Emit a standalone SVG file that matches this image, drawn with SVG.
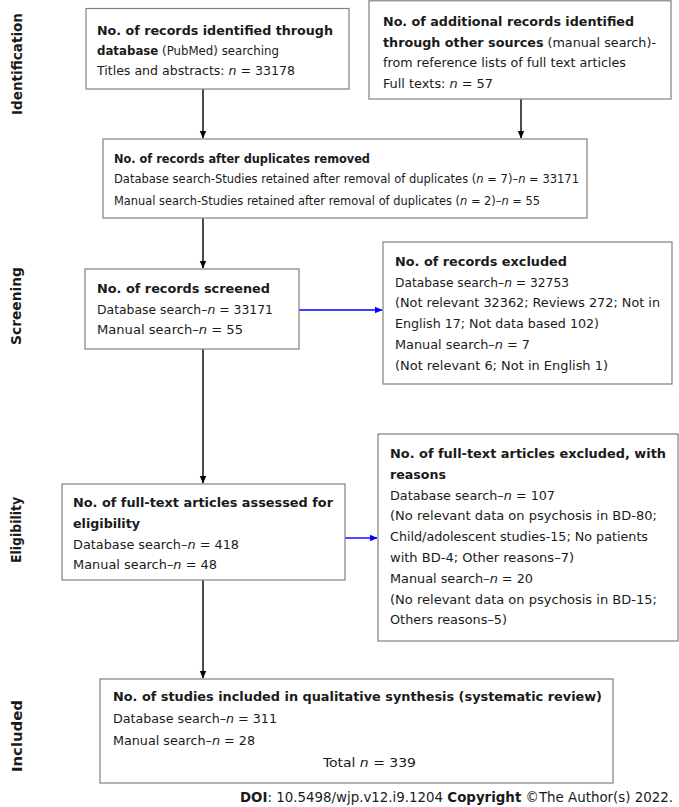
<svg xmlns="http://www.w3.org/2000/svg" width="679" height="807" viewBox="0 0 679 807">
<style>
  text { font-family: "DejaVu Sans Condensed", "DejaVu Sans", sans-serif; font-size: 13px; fill: #1a1a1a; }
  .b { font-weight: bold; }
  .i { font-style: italic; }
  .sm { font-size: 12px; }
  .stage { font-weight: bold; font-size: 13.5px; }
  .foot { font-size: 14px; }
  .box { fill: #ffffff; stroke: #808080; stroke-width: 1.2; }
  .arrow { stroke: #000000; stroke-width: 1.4; fill: none; }
  .blue { stroke: #0000ff; stroke-width: 1.4; fill: none; }
</style>
<defs>
  <marker id="ah" markerWidth="8" markerHeight="8" refX="7" refY="4" orient="auto" markerUnits="userSpaceOnUse">
    <path d="M0,0.8 L7.5,4 L0,7.2 Z" fill="#000000"/>
  </marker>
  <marker id="ahb" markerWidth="8" markerHeight="8" refX="7" refY="4" orient="auto" markerUnits="userSpaceOnUse">
    <path d="M0,0.8 L7.5,4 L0,7.2 Z" fill="#0000ff"/>
  </marker>
</defs>
<rect width="679" height="807" fill="#ffffff"/>

<g id="stages">
  <text class="stage" transform="translate(22,64) rotate(-90)" text-anchor="middle" textLength="102" lengthAdjust="spacingAndGlyphs">Identification</text>
  <text class="stage" transform="translate(21,306) rotate(-90)" text-anchor="middle" textLength="78" lengthAdjust="spacingAndGlyphs">Screening</text>
  <text class="stage" transform="translate(21,530) rotate(-90)" text-anchor="middle" textLength="66" lengthAdjust="spacingAndGlyphs">Eligibility</text>
  <text class="stage" transform="translate(22,736) rotate(-90)" text-anchor="middle" textLength="72" lengthAdjust="spacingAndGlyphs">Included</text>
</g>

<g id="connectors">
  <line class="arrow" x1="203" y1="89" x2="203" y2="138" marker-end="url(#ah)"/>
  <line class="arrow" x1="521" y1="99" x2="521" y2="138" marker-end="url(#ah)"/>
  <line class="arrow" x1="203" y1="218" x2="203" y2="268" marker-end="url(#ah)"/>
  <line class="blue" x1="299" y1="310" x2="382" y2="310" marker-end="url(#ahb)"/>
  <line class="arrow" x1="203" y1="349" x2="203" y2="483" marker-end="url(#ah)"/>
  <line class="blue" x1="345" y1="538" x2="377" y2="538" marker-end="url(#ahb)"/>
  <line class="arrow" x1="203" y1="580" x2="203" y2="678" marker-end="url(#ah)"/>
</g>

<g id="n1">
  <rect class="box" x="86" y="8.5" width="263" height="80.5"/>
  <text x="97" y="35" class="b" textLength="236" lengthAdjust="spacingAndGlyphs">No. of records identified through</text>
  <text x="97" y="55" textLength="182" lengthAdjust="spacingAndGlyphs"><tspan class="b">database</tspan> (PubMed) searching</text>
  <text x="97" y="75" textLength="198" lengthAdjust="spacingAndGlyphs">Titles and abstracts: <tspan class="i">n</tspan> = 33178</text>
</g>

<g id="n2">
  <rect class="box" x="369" y="0.8" width="302" height="98.2"/>
  <text x="383" y="26" class="b" textLength="251" lengthAdjust="spacingAndGlyphs">No. of additional records identified</text>
  <text x="383" y="46.5" textLength="273" lengthAdjust="spacingAndGlyphs"><tspan class="b">through other sources</tspan> (manual search)-</text>
  <text x="383" y="67" textLength="243" lengthAdjust="spacingAndGlyphs">from reference lists of full text articles</text>
  <text x="383" y="87.5" textLength="110" lengthAdjust="spacingAndGlyphs">Full texts: <tspan class="i">n</tspan> = 57</text>
</g>

<g id="n3">
  <rect class="box" x="103" y="139" width="484" height="79"/>
  <text x="114" y="162.5" class="b" textLength="256" lengthAdjust="spacingAndGlyphs">No. of records after duplicates removed</text>
  <text x="114" y="183" class="sm" textLength="465" lengthAdjust="spacingAndGlyphs">Database search-Studies retained after removal of duplicates (<tspan class="i">n</tspan> = 7)–<tspan class="i">n</tspan> = 33171</text>
  <text x="114" y="204.5" class="sm" textLength="426" lengthAdjust="spacingAndGlyphs">Manual search-Studies retained after removal of duplicates (<tspan class="i">n</tspan> = 2)–<tspan class="i">n</tspan> = 55</text>
</g>

<g id="n4">
  <rect class="box" x="85" y="269" width="214" height="80"/>
  <text x="97" y="293" class="b" textLength="173" lengthAdjust="spacingAndGlyphs">No. of records screened</text>
  <text x="97" y="313.5" textLength="176" lengthAdjust="spacingAndGlyphs">Database search–<tspan class="i">n</tspan> = 33171</text>
  <text x="97" y="334" textLength="146" lengthAdjust="spacingAndGlyphs">Manual search–<tspan class="i">n</tspan> = 55</text>
</g>

<g id="n5">
  <rect class="box" x="383" y="242" width="289" height="142"/>
  <text x="395" y="266" class="b" textLength="172" lengthAdjust="spacingAndGlyphs">No. of records excluded</text>
  <text x="395" y="286.7" textLength="174" lengthAdjust="spacingAndGlyphs">Database search–<tspan class="i">n</tspan> = 32753</text>
  <text x="395" y="307.4" textLength="265" lengthAdjust="spacingAndGlyphs">(Not relevant 32362; Reviews 272; Not in</text>
  <text x="395" y="328.1" textLength="204" lengthAdjust="spacingAndGlyphs">English 17; Not data based 102)</text>
  <text x="395" y="348.8" textLength="135" lengthAdjust="spacingAndGlyphs">Manual search–<tspan class="i">n</tspan> = 7</text>
  <text x="395" y="369.5" textLength="213" lengthAdjust="spacingAndGlyphs">(Not relevant 6; Not in English 1)</text>
</g>

<g id="n6">
  <rect class="box" x="62" y="484" width="283" height="96"/>
  <text x="73" y="507" class="b" textLength="260" lengthAdjust="spacingAndGlyphs">No. of full-text articles assessed for</text>
  <text x="73" y="528" class="b" textLength="67" lengthAdjust="spacingAndGlyphs">eligibility</text>
  <text x="73" y="548.5" textLength="166" lengthAdjust="spacingAndGlyphs">Database search–<tspan class="i">n</tspan> = 418</text>
  <text x="73" y="569" textLength="144" lengthAdjust="spacingAndGlyphs">Manual search–<tspan class="i">n</tspan> = 48</text>
</g>

<g id="n7">
  <rect class="box" x="378" y="434" width="300" height="207"/>
  <text x="390" y="458" class="b" textLength="276" lengthAdjust="spacingAndGlyphs">No. of full-text articles excluded, with</text>
  <text x="390" y="478.8" class="b" textLength="56" lengthAdjust="spacingAndGlyphs">reasons</text>
  <text x="390" y="499.6" textLength="165" lengthAdjust="spacingAndGlyphs">Database search–<tspan class="i">n</tspan> = 107</text>
  <text x="390" y="520.4" textLength="267" lengthAdjust="spacingAndGlyphs">(No relevant data on psychosis in BD-80;</text>
  <text x="390" y="541.2" textLength="258" lengthAdjust="spacingAndGlyphs">Child/adolescent studies-15; No patients</text>
  <text x="390" y="562" textLength="184" lengthAdjust="spacingAndGlyphs">with BD-4; Other reasons–7)</text>
  <text x="390" y="582.8" textLength="143" lengthAdjust="spacingAndGlyphs">Manual search–<tspan class="i">n</tspan> = 20</text>
  <text x="390" y="603.6" textLength="267" lengthAdjust="spacingAndGlyphs">(No relevant data on psychosis in BD-15;</text>
  <text x="390" y="624.4" textLength="117" lengthAdjust="spacingAndGlyphs">Others reasons–5)</text>
</g>

<g id="n8">
  <rect class="box" x="100" y="679" width="513" height="104"/>
  <text x="113" y="701" class="b" textLength="489" lengthAdjust="spacingAndGlyphs">No. of studies included in qualitative synthesis (systematic review)</text>
  <text x="113" y="723" textLength="164" lengthAdjust="spacingAndGlyphs">Database search–<tspan class="i">n</tspan> = 311</text>
  <text x="113" y="745" textLength="142" lengthAdjust="spacingAndGlyphs">Manual search–<tspan class="i">n</tspan> = 28</text>
  <text x="323" y="767" textLength="93" lengthAdjust="spacingAndGlyphs">Total <tspan class="i">n</tspan> = 339</text>
</g>

<g id="footer">
  <text class="foot" x="240" y="802" textLength="433" lengthAdjust="spacingAndGlyphs"><tspan class="b">DOI</tspan>: 10.5498/wjp.v12.i9.1204  <tspan class="b">Copyright</tspan> ©The Author(s) 2022.</text>
</g>
</svg>
